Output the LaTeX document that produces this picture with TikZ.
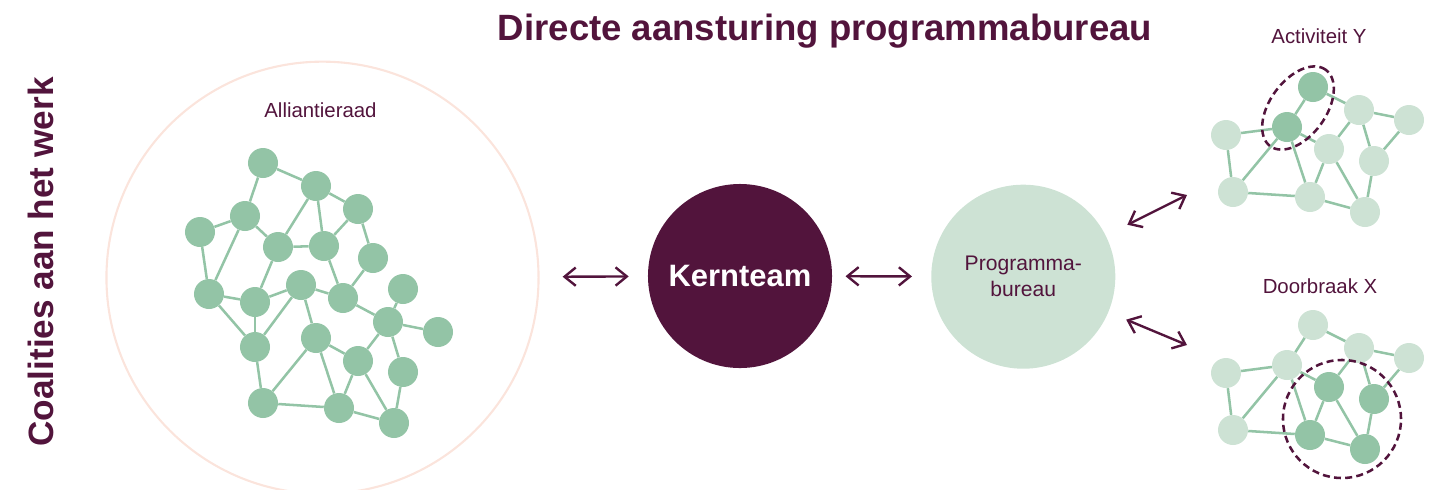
\documentclass[tikz,border=0pt]{standalone}
\usepackage{fontspec}
\setmainfont{Liberation Sans}
\usetikzlibrary{arrows.meta}
\definecolor{plum}{HTML}{52143C}
\definecolor{leaf}{HTML}{93C4A6}
\definecolor{mint}{HTML}{CDE2D4}
\definecolor{blush}{HTML}{FBE4DC}
\tikzset{
  knot/.style={circle,fill=leaf,minimum size=0.75cm,inner sep=0pt},
  strand/.style={leaf,line width=1.8pt},
  duplex/.style={plum,line width=1.7pt,{Straight Barb[length=8pt,width=13pt]}-{Straight Barb[length=8pt,width=13pt]}},
  lasso/.style={plum,line width=1.8pt,dash pattern=on 5pt off 3pt},
  caption/.style={plum,font=\fontsize{14.5}{17}\selectfont,anchor=base},
  hub/.style={circle,minimum size=4.6cm,inner sep=0pt},
}
\begin{document}
\begin{tikzpicture}[x=0.025cm,y=-0.025cm]
  \useasboundingbox (0,0) rectangle (1430,489);
  % headings
  \node[plum,font=\bfseries\fontsize{26}{30}\selectfont,anchor=base] (title) at (825,40.7) {Directe aansturing programmabureau};
  \node[plum,font=\bfseries\fontsize{25}{30}\selectfont,rotate=90] (side) at (41,262) {Coalities aan het werk};
  % alliance circle
  \node[circle,draw=blush,line width=1.5pt,minimum size=10.8cm,inner sep=0pt] (alli) at (322.5,277.7) {};
  \node[caption] (allilabel) at (320.5,117.7) {Alliantieraad};
  % alliance network
  \foreach \n/\x/\y in {1/263/163, 2/316/186, 3/358/209, 4/245/216, 5/200/232, 6/278/247,
      7/324/246, 8/373/258, 9/209/294, 10/255/302, 11/301/285, 12/343/298, 13/403/289,
      14/388/322, 15/438/332, 16/255/347, 17/316/338, 18/358/361, 19/403/372,
      20/263/403, 21/339/408, 22/394/423}
    \node[knot] (n\n) at (\x,\y) {};
  \foreach \a/\b in {1/2, 1/4, 2/3, 2/6, 2/7, 3/7, 3/8, 4/5, 4/6, 4/9, 5/9, 6/7, 6/10,
      7/12, 8/12, 9/10, 9/16, 10/11, 10/16, 11/12, 11/16, 11/17, 12/14, 13/14, 14/15,
      14/18, 14/19, 16/20, 17/18, 17/20, 17/21, 18/21, 18/22, 19/22, 20/21, 21/22}
    \draw[strand] (n\a) -- (n\b);
  % core team and programme office
  \node[hub,fill=plum,text=white,font=\bfseries\fontsize{22}{26}\selectfont] (kern) at (740,276) {Kernteam};
  \node[hub,fill=mint,text=plum,align=center,font=\fontsize{15}{18.5}\selectfont] (prog) at (1023.3,276.7) {Programma-\\bureau};
  \draw[duplex,shorten <=0.575cm,shorten >=0.475cm] (alli) -- (kern);
  \draw[duplex,shorten <=0.33cm,shorten >=0.475cm] (kern) -- (prog);
  \coordinate (actend) at (1187,195);
  \coordinate (doorend) at (1187,345);
  \draw[duplex,shorten <=0.6cm] (prog) -- (actend);
  \draw[duplex,shorten <=0.48cm] (prog) -- (doorend);
  % activity network
  \node[caption] (actlabel) at (1319,43) {Activiteit Y};
  \foreach \n/\x/\y/\c in {a/1313/87/leaf, b/1287/127/leaf, c/1226/135/mint, d/1359/110/mint,
      e/1409/120/mint, f/1329/149/mint, g/1374/161/mint, h/1233/192/mint, i/1310/197/mint,
      j/1365/212/mint}
    \node[knot,fill=\c] (t\n) at (\x,\y) {};
  % breakthrough network
  \node[caption] (doorlabel) at (1320,293) {Doorbraak X};
  \foreach \n/\x/\y/\c in {a/1313/325/mint, b/1287/365/mint, c/1226/373/mint, d/1359/348/mint,
      e/1409/358/mint, f/1329/387/leaf, g/1374/399/leaf, h/1233/430/mint, i/1310/435/leaf,
      j/1365/449/leaf}
    \node[knot,fill=\c] (b\n) at (\x,\y) {};
  \foreach \p in {t,b}
    \foreach \u/\v in {a/b, a/d, b/c, b/f, b/h, b/i, d/f, d/g, d/e, e/g, f/i, f/j, g/j, c/h, h/i, i/j}
      \draw[strand] (\p\u) -- (\p\v);
  % dashed groupings
  \draw[lasso,rotate around={54:(1298,108)}] (1298,108) ellipse[x radius=1.18cm,y radius=0.7cm];
  \draw[lasso] (1342,419) circle[radius=1.475cm];
\end{tikzpicture}
\end{document}
